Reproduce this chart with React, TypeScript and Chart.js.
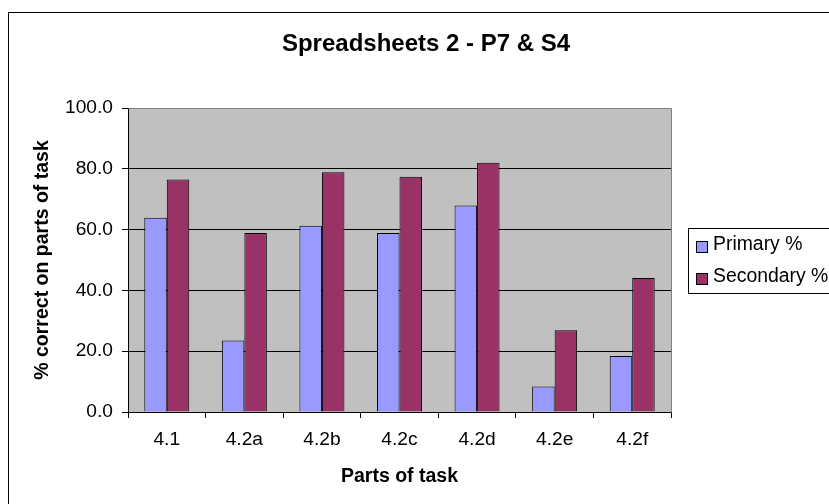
import React, { useEffect, useRef } from "react";
import { Chart, registerables } from "chart.js";

Chart.register(...registerables);

// Task parts along the category axis
const categories = ["4.1", "4.2a", "4.2b", "4.2c", "4.2d", "4.2e", "4.2f"];
// Percentage correct for each part
const primaryPct = [63.9, 23.5, 61.3, 58.9, 67.9, 8.4, 18.4];
const secondaryPct = [76.5, 58.9, 78.9, 77.4, 82.0, 26.9, 44.1];
const seriesNames = ["Primary %", "Secondary %"];
const seriesColors = ["#9999FF", "#993366"];
const yTickValues = [0, 20, 40, 60, 80, 100];

const chartTitle = "Spreadsheets 2 - P7 & S4";
const xTitle = "Parts of task";
const yTitle = "% correct on parts of task";

const W = 829;
const H = 504;
const PAD_LEFT = 23;
const FONT = '"Liberation Sans", Arial, Helvetica, sans-serif';

// Gray plot area, gray frame on its top/right edges, outer black frame and boxed legend
const sheetPlugin = {
  id: "sheetDecor",
  beforeDraw(chart: any) {
    const { ctx, chartArea: a } = chart;
    ctx.save();
    ctx.fillStyle = "#ffffff";
    ctx.fillRect(0, 0, chart.width, chart.height);
    ctx.fillStyle = "#C0C0C0";
    ctx.fillRect(a.left, a.top, a.right - a.left, a.bottom - a.top);
    ctx.restore();
  },
  beforeDatasetsDraw(chart: any) {
    const { ctx, chartArea: a } = chart;
    ctx.save();
    ctx.strokeStyle = "#808080";
    ctx.lineWidth = 1;
    ctx.beginPath();
    ctx.moveTo(Math.round(a.left) + 0.5, Math.round(a.top) + 0.5);
    ctx.lineTo(Math.round(a.right) + 0.5, Math.round(a.top) + 0.5);
    ctx.lineTo(Math.round(a.right) + 0.5, Math.round(a.bottom) + 0.5);
    ctx.stroke();
    ctx.restore();
  },
  afterDraw(chart: any) {
    const { ctx, chartArea: a } = chart;
    ctx.save();
    // outer chart frame (right and bottom edges run past the canvas)
    ctx.strokeStyle = "#000";
    ctx.lineWidth = 1;
    ctx.strokeRect(8.5, 12.5, chart.width + 20, chart.height + 20);

    // legend
    const lx = Math.round(a.right) + 17;
    const lh = 65;
    const ly = Math.round((a.top + a.bottom) / 2 - lh / 2);
    ctx.fillStyle = "#fff";
    ctx.fillRect(lx, ly, 150, lh);
    ctx.strokeRect(lx + 0.5, ly + 0.5, 150, lh);
    ctx.font = `19.4px ${FONT}`;
    ctx.textBaseline = "middle";
    ctx.textAlign = "left";
    chart.data.datasets.forEach((ds: any, i: number) => {
      const cy = ly + 18.5 + i * 32;
      ctx.fillStyle = ds.backgroundColor;
      ctx.fillRect(lx + 8, Math.round(cy - 5.5), 11, 11);
      ctx.strokeStyle = "#000";
      ctx.strokeRect(lx + 8.5, Math.round(cy - 5.5) + 0.5, 11, 11);
      ctx.fillStyle = "#000";
      ctx.fillText(ds.label, lx + 25, cy - 1.5);
    });
    ctx.restore();
  },
};

export default function App() {
  const ref = useRef<HTMLCanvasElement | null>(null);

  useEffect(() => {
    if (!ref.current) return;
    const chart = new Chart(ref.current, {
      type: "bar",
      data: {
        labels: categories,
        datasets: [
          {
            label: seriesNames[0],
            data: primaryPct,
            backgroundColor: seriesColors[0],
            borderColor: "#000",
            borderWidth: 1,
          },
          {
            label: seriesNames[1],
            data: secondaryPct,
            backgroundColor: seriesColors[1],
            borderColor: "#000",
            borderWidth: 1,
          },
        ],
      },
      options: {
        animation: false,
        responsive: false,
        devicePixelRatio: 1,
        layout: { padding: { left: PAD_LEFT, right: 0, top: 0, bottom: 0 } },
        datasets: {
          bar: { categoryPercentage: 0.58, barPercentage: 1 },
        },
        plugins: {
          legend: { display: false },
          tooltip: { enabled: false },
          title: {
            display: true,
            text: chartTitle,
            color: "#000",
            font: { family: FONT, size: 24, weight: "bold", lineHeight: 1.2 },
            padding: { top: 29.6, bottom: 49.6 },
          },
        },
        scales: {
          x: {
            type: "category",
            offset: true,
            grid: {
              display: true,
              offset: true,
              drawOnChartArea: false,
              drawTicks: true,
              tickLength: 6,
              color: "#000",
              tickColor: "#000",
            },
            border: { display: true, color: "#000", width: 1 },
            ticks: {
              color: "#000",
              font: { family: FONT, size: 19.2 },
              padding: 10.5,
              maxRotation: 0,
              autoSkip: false,
            },
            title: {
              display: true,
              text: xTitle,
              color: "#000",
              font: { family: FONT, size: 19.5, weight: "bold", lineHeight: 1.2 },
              padding: { top: 0, bottom: 16 },
            },
            afterFit: (s: any) => {
              s.height = H - 412;
            },
          },
          y: {
            type: "linear",
            position: "left",
            min: 0,
            max: 100,
            afterBuildTicks: (s: any) => {
              s.ticks = yTickValues.map((v) => ({ value: v }));
            },
            grid: {
              color: "#000",
              tickColor: "#000",
              lineWidth: 1,
              tickLength: 6,
            },
            border: { display: true, color: "#000", width: 1 },
            ticks: {
              color: "#000",
              font: { family: FONT, size: 19.2 },
              padding: 9,
              callback: (v: any) => Number(v).toFixed(1),
            },
            title: {
              display: true,
              text: yTitle,
              color: "#000",
              font: { family: FONT, size: 19.5, weight: "bold", lineHeight: 1.2 },
              padding: { top: 30.8 - PAD_LEFT, bottom: 0 },
            },
            afterFit: (s: any) => {
              s.width = 128 - PAD_LEFT;
            },
          },
          // empty right-hand axis that keeps room for the legend
          legendSpace: {
            type: "linear",
            position: "right",
            display: true,
            grid: { display: false, drawTicks: false },
            border: { display: false },
            ticks: { display: false },
            afterFit: (s: any) => {
              s.width = W - 671;
            },
          },
        },
      },
      plugins: [sheetPlugin],
    } as any);
    return () => chart.destroy();
  }, []);

  return (
    <canvas
      ref={ref}
      width={W}
      height={H}
      style={{ position: "absolute", left: 0, top: 0, width: W, height: H }}
    />
  );
}
